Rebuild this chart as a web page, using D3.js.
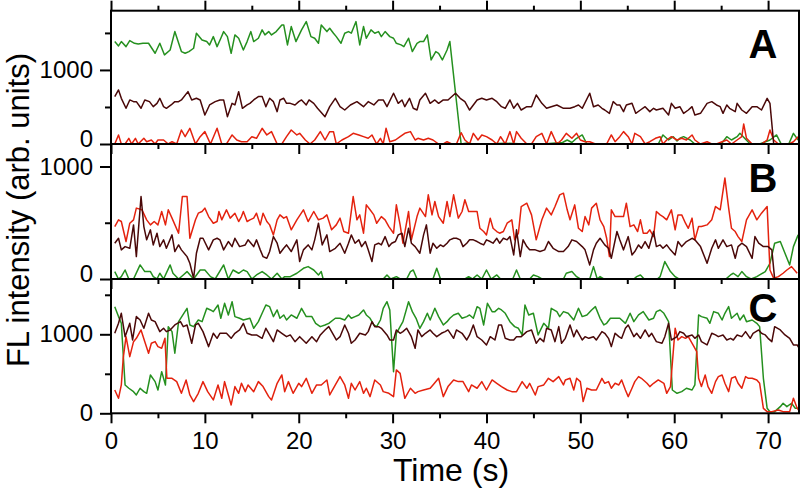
<!DOCTYPE html>
<html>
<head>
<meta charset="utf-8">
<script src="https://d3js.org/d3.v7.min.js"></script>
<style>
  body { margin: 0; background: #fff; }
  text { font-family: Arial, "Liberation Sans", sans-serif; }
</style>
</head>
<body>
<svg width="800" height="489"></svg>
<script>
// traces: [time (s), intensity (arb. units)]
var aGreen = [[0.4,1383],[0.8,1324],[1.1,1383],[1.6,1315],[2.0,1396],[2.5,1360],[2.9,1351],[3.4,1360],[4.0,1360],[4.7,1225],[5.2,1360],[5.7,1203],[6.3,1270],[6.8,1518],[7.5,1248],[7.9,1225],[8.3,1248],[8.8,1293],[9.1,1496],[9.7,1405],[10.2,1383],[10.5,1338],[10.9,1450],[11.3,1315],[11.7,1428],[12.0,1518],[12.4,1450],[12.8,1225],[13.2,1473],[13.6,1428],[14.1,1270],[14.5,1383],[14.9,1518],[15.2,1383],[15.7,1428],[16.1,1541],[16.4,1473],[16.8,1518],[17.1,1473],[17.6,1518],[18.2,1608],[18.4,1608],[18.8,1338],[19.2,1586],[19.7,1383],[20.3,1541],[20.8,1653],[21.3,1450],[21.7,1428],[22.1,1360],[22.4,1608],[23.0,1518],[23.3,1563],[23.7,1496],[24.0,1450],[24.5,1360],[24.9,1496],[25.3,1518],[25.6,1496],[26.1,1653],[26.5,1338],[26.9,1586],[27.2,1428],[27.7,1541],[28.1,1496],[28.5,1518],[28.8,1450],[29.2,1518],[29.7,1450],[30.1,1428],[30.4,1360],[30.9,1338],[31.2,1315],[31.7,1428],[32.1,1248],[32.6,1360],[32.9,1383],[33.3,1383],[33.7,1473],[34.1,1135],[34.6,1248],[34.9,1225],[35.3,1135],[35.8,1270],[36.1,1383],[37.3,0],[38.0,15],[38.6,0],[40.0,0],[42.0,10],[44.0,0],[46.0,0],[48.1,20],[48.6,54],[49.1,20],[49.6,77],[50.2,122],[50.7,0],[52.0,0],[55.0,0],[58.3,0],[58.8,122],[59.4,54],[59.9,99],[60.3,40],[60.6,77],[61.0,99],[61.7,54],[62.2,0],[65.0,0],[65.6,99],[66.1,54],[66.7,99],[67.0,144],[67.5,77],[68.1,0],[69.1,0],[70.2,54],[70.9,122],[71.4,0],[72.2,0],[72.7,144],[73.2,54]];
var aBrown = [[0.4,640],[0.8,730],[1.1,617],[1.6,482],[2.0,595],[2.4,572],[2.7,572],[3.2,482],[3.6,595],[4.1,572],[4.5,504],[4.9,549],[5.2,617],[5.6,504],[5.9,482],[6.4,527],[6.8,572],[7.2,572],[7.5,595],[8.2,707],[8.6,595],[9.1,617],[9.5,595],[10.0,392],[10.5,527],[11.1,572],[11.6,595],[12.0,595],[12.4,369],[12.9,549],[13.2,527],[13.6,707],[14.0,482],[14.5,527],[14.8,549],[15.2,595],[15.7,640],[16.1,640],[16.5,504],[16.9,617],[17.3,572],[17.7,437],[18.0,595],[18.4,617],[18.7,549],[19.1,549],[19.6,527],[20.0,572],[20.3,595],[20.8,527],[21.1,595],[21.6,549],[22.0,482],[22.8,369],[23.3,504],[23.9,617],[24.4,504],[24.9,459],[25.5,527],[26.2,572],[26.9,504],[27.4,572],[28.0,527],[28.5,595],[29.0,595],[29.4,504],[30.1,685],[30.6,549],[31.0,595],[31.3,504],[31.8,617],[32.2,482],[32.6,459],[32.9,595],[33.5,685],[34.0,549],[34.5,595],[34.9,549],[35.4,595],[35.9,595],[36.7,685],[37.2,617],[37.7,572],[38.2,459],[39.0,595],[39.5,617],[40.0,595],[40.6,617],[41.1,572],[41.6,504],[42.0,482],[42.5,595],[42.9,482],[43.3,549],[43.7,459],[44.3,504],[44.8,504],[45.3,662],[45.9,549],[46.4,482],[46.9,504],[47.5,527],[48.2,482],[48.9,482],[49.4,504],[49.8,527],[50.2,482],[51.0,685],[51.4,504],[51.9,527],[52.3,482],[52.6,459],[53.1,414],[53.5,572],[53.9,527],[54.2,527],[54.6,437],[54.9,527],[55.5,549],[55.9,414],[56.4,459],[56.9,504],[57.4,437],[57.8,482],[58.1,459],[58.8,482],[59.4,392],[59.7,549],[60.1,482],[60.6,504],[61.0,414],[61.5,459],[61.9,504],[62.2,392],[62.8,414],[63.5,549],[64.0,572],[64.5,527],[64.9,504],[65.2,414],[65.6,527],[65.9,482],[66.5,437],[66.7,549],[67.2,459],[67.7,414],[68.3,504],[68.8,504],[69.3,459],[69.9,617],[70.2,549],[70.6,0],[71.0,0],[73.4,0]];
var aRed = [[0.4,0],[0.8,122],[1.1,0],[1.5,0],[1.9,77],[2.2,0],[2.6,77],[2.9,0],[3.5,77],[3.8,31],[4.3,54],[4.7,0],[5.0,54],[5.6,54],[6.1,0],[6.5,31],[7.0,0],[7.5,189],[7.9,99],[8.4,212],[9.0,0],[9.5,99],[10.0,167],[10.6,0],[11.3,212],[11.8,0],[12.3,0],[12.9,122],[13.4,54],[13.9,31],[14.5,31],[15.0,99],[15.5,77],[16.1,212],[16.6,122],[17.1,167],[17.7,0],[18.2,0],[18.7,99],[19.2,189],[19.8,122],[20.1,144],[20.7,54],[21.2,0],[21.7,54],[22.3,167],[22.8,54],[23.3,167],[23.7,167],[24.0,0],[24.6,54],[25.3,99],[25.8,144],[26.4,122],[26.9,99],[27.4,77],[27.8,122],[28.3,0],[28.7,77],[29.0,0],[29.3,212],[29.7,31],[30.3,54],[30.8,99],[31.3,144],[31.9,167],[32.4,54],[32.7,77],[33.3,54],[33.8,77],[34.3,54],[34.9,0],[35.4,0],[35.8,31],[36.3,0],[36.8,0],[37.3,153],[37.7,54],[38.2,0],[38.6,144],[39.1,54],[39.5,122],[40.0,99],[40.6,54],[41.1,0],[41.5,99],[42.0,0],[42.5,167],[42.9,0],[43.2,167],[43.7,77],[44.3,0],[44.8,0],[45.3,99],[45.9,144],[46.4,0],[46.9,167],[47.5,0],[48.0,54],[48.5,144],[49.1,77],[49.6,144],[50.0,54],[50.5,31],[51.0,31],[51.6,0],[52.1,0],[52.8,0],[53.3,122],[53.7,31],[54.2,99],[54.6,167],[55.1,99],[55.5,0],[55.8,144],[56.4,99],[56.9,0],[57.4,31],[58.0,77],[58.5,99],[58.8,0],[59.2,54],[59.7,99],[60.3,54],[60.8,77],[61.3,54],[61.9,122],[62.2,54],[62.8,0],[63.5,31],[64.0,0],[64.5,0],[65.1,31],[65.6,54],[66.1,0],[66.7,54],[67.2,99],[67.4,270],[67.7,77],[68.3,0],[68.8,0],[69.3,0],[69.9,54],[70.2,189],[70.6,54],[71.1,0],[71.6,0],[72.2,0],[72.7,31],[73.2,99]];

var bGreen = [[0.4,66],[0.8,0],[1.1,21],[1.5,80],[1.9,0],[2.4,0],[3.1,125],[3.6,66],[4.2,66],[4.5,21],[4.9,0],[5.2,51],[5.6,0],[6.3,125],[6.6,51],[7.2,0],[7.7,36],[8.1,66],[8.8,0],[9.5,80],[10.0,80],[10.6,21],[11.1,0],[12.0,125],[12.5,0],[13.0,80],[13.6,51],[14.1,80],[14.5,66],[15.0,0],[15.5,36],[16.1,66],[16.6,36],[17.1,0],[17.7,51],[18.2,0],[18.5,21],[19.1,21],[19.8,51],[20.5,95],[21.0,110],[21.6,80],[22.1,36],[22.4,66],[22.6,0],[29.0,0],[29.4,36],[29.8,0],[30.4,21],[30.8,0],[31.5,0],[31.9,66],[32.2,80],[32.6,0],[34.3,0],[34.7,95],[35.1,0],[37.7,0],[38.1,21],[38.5,0],[39.0,36],[39.5,0],[40.0,80],[40.5,0],[41.1,36],[41.5,0],[42.8,0],[43.2,80],[43.6,0],[44.6,0],[45.0,36],[45.5,21],[45.9,0],[48.2,0],[48.5,51],[49.1,66],[49.6,21],[50.0,0],[51.0,0],[51.4,110],[51.8,0],[52.1,21],[52.5,0],[55.7,0],[56.0,21],[56.4,36],[56.8,0],[58.2,0],[58.5,21],[59.0,155],[59.6,66],[60.1,21],[60.5,0],[65.5,0],[66.0,36],[66.3,51],[66.8,21],[67.2,66],[67.7,21],[68.2,0],[68.8,21],[69.1,36],[69.7,66],[70.2,140],[70.7,318],[71.3,333],[71.8,229],[72.3,125],[72.7,288],[73.2,392]];
var bBrown = [[0.4,318],[0.8,362],[1.1,259],[1.5,288],[2.0,273],[2.4,481],[2.7,199],[3.2,733],[3.5,466],[3.8,348],[4.2,437],[4.5,303],[4.9,407],[5.2,288],[5.6,348],[5.9,273],[6.5,392],[6.8,244],[7.2,303],[7.5,259],[8.1,199],[8.4,140],[8.8,6],[9.1,229],[9.5,362],[9.8,362],[10.4,259],[10.9,348],[11.3,362],[11.6,348],[12.0,259],[12.5,333],[12.9,288],[13.2,362],[13.7,288],[14.3,303],[14.6,348],[15.2,288],[15.5,348],[15.9,259],[16.2,199],[16.6,184],[16.9,244],[17.3,377],[17.7,318],[18.0,229],[18.4,273],[18.7,303],[19.2,244],[19.8,348],[20.1,155],[20.5,259],[21.0,303],[21.4,259],[21.7,348],[22.1,496],[22.5,303],[23.0,392],[23.3,244],[23.9,273],[24.4,318],[24.9,229],[25.3,318],[25.6,392],[26.0,318],[26.4,348],[26.7,288],[27.1,333],[27.4,259],[27.8,155],[28.1,303],[28.5,318],[28.8,303],[29.2,377],[29.6,288],[29.9,318],[30.3,333],[30.6,392],[31.0,407],[31.3,288],[31.7,451],[32.0,318],[32.4,288],[32.9,229],[33.3,392],[33.6,481],[34.0,229],[34.3,318],[34.7,273],[35.1,303],[35.4,288],[35.8,318],[36.1,348],[36.5,362],[36.8,362],[37.2,348],[37.5,288],[37.9,318],[38.2,348],[38.6,348],[39.0,333],[39.3,318],[39.7,303],[40.0,348],[40.4,333],[40.7,318],[41.1,362],[41.4,318],[41.8,362],[42.2,348],[42.5,377],[42.9,214],[43.2,437],[43.6,199],[43.9,348],[44.3,288],[44.6,259],[45.2,259],[45.7,244],[46.2,259],[46.6,333],[47.1,273],[47.7,244],[48.2,244],[48.7,288],[49.1,348],[49.6,333],[50.2,288],[50.5,259],[51.0,125],[51.4,259],[51.7,318],[52.1,362],[52.6,303],[53.0,273],[53.3,184],[53.9,422],[54.2,348],[54.6,259],[55.1,377],[55.5,214],[55.8,244],[56.2,303],[56.5,273],[56.9,333],[57.3,273],[57.8,422],[58.1,288],[58.5,303],[58.8,273],[59.2,303],[59.6,259],[60.1,214],[60.4,333],[60.8,288],[61.3,333],[61.9,362],[62.2,348],[62.8,288],[63.5,140],[64.0,273],[64.4,348],[64.7,273],[65.2,348],[65.6,288],[66.1,303],[66.5,184],[66.8,288],[67.2,318],[67.7,288],[68.3,184],[68.6,377],[69.0,318],[69.5,288],[70.0,288],[70.4,259],[70.7,0],[73.4,0]];
var bRed = [[0.4,466],[0.8,526],[1.1,511],[1.6,333],[2.0,496],[2.4,526],[2.7,630],[3.3,615],[3.8,526],[4.2,481],[4.6,511],[5.0,481],[5.4,600],[5.8,481],[6.1,615],[6.5,541],[7.2,407],[7.6,733],[8.1,733],[8.4,362],[9.0,526],[9.3,585],[9.7,600],[10.0,630],[10.4,555],[10.9,496],[11.3,511],[11.5,600],[11.8,526],[12.3,615],[12.7,541],[13.2,585],[13.6,511],[13.9,555],[14.1,600],[14.5,511],[14.8,526],[15.2,541],[15.5,585],[15.9,481],[16.2,585],[16.6,511],[16.9,481],[17.3,392],[17.7,526],[18.0,570],[18.4,541],[18.7,555],[19.2,437],[19.8,526],[20.5,615],[21.0,511],[21.6,600],[22.1,526],[22.6,541],[23.0,570],[23.5,437],[24.0,481],[24.4,541],[24.8,422],[25.3,407],[25.8,733],[26.2,526],[26.5,570],[26.9,407],[27.2,659],[27.6,615],[28.0,570],[28.3,496],[28.8,555],[29.2,526],[29.6,466],[30.1,407],[30.4,659],[30.8,481],[31.1,318],[31.7,600],[32.0,348],[32.6,555],[32.9,630],[33.5,555],[33.8,748],[34.2,570],[34.5,689],[34.9,555],[35.4,496],[35.8,689],[36.1,555],[36.5,748],[37.0,541],[37.4,600],[37.7,704],[38.1,600],[38.4,600],[39.0,600],[39.3,451],[39.7,422],[40.0,392],[40.4,541],[40.7,451],[41.1,422],[41.4,407],[41.8,422],[42.2,496],[42.7,526],[43.0,348],[43.4,407],[43.7,644],[44.3,674],[44.8,570],[45.3,348],[45.9,526],[46.4,630],[46.9,570],[47.3,644],[47.8,748],[48.2,763],[48.6,615],[48.9,526],[49.4,659],[49.8,451],[50.2,422],[50.5,555],[50.9,481],[51.2,630],[51.7,674],[52.1,526],[52.5,466],[52.8,362],[53.1,199],[53.3,615],[53.7,555],[54.2,555],[54.6,555],[54.9,674],[55.3,466],[55.7,481],[56.1,422],[56.4,526],[56.7,407],[57.1,407],[57.4,437],[57.8,377],[58.1,600],[58.5,570],[58.8,555],[59.2,526],[59.7,615],[60.1,437],[60.4,570],[60.8,570],[61.2,496],[61.5,451],[61.9,541],[62.2,348],[62.6,466],[62.9,466],[63.5,481],[64.0,526],[64.4,644],[64.9,615],[65.4,897],[65.8,630],[66.1,451],[66.5,422],[66.8,377],[67.2,333],[67.7,526],[68.3,615],[68.8,526],[69.3,585],[69.9,644],[70.2,80],[70.6,6],[71.1,21],[71.6,51],[72.0,80],[72.5,110],[73.1,51]];

var cGreen = [[0.4,1350],[0.8,1224],[1.1,1139],[1.5,359],[1.9,317],[2.4,274],[2.7,232],[3.1,317],[3.5,274],[3.8,253],[4.2,485],[4.7,401],[5.0,295],[5.4,527],[5.8,359],[6.1,1097],[6.5,1034],[6.8,760],[7.2,1160],[8.1,1329],[8.4,1118],[8.8,1097],[9.3,1181],[9.7,1160],[10.2,1329],[10.6,1308],[10.9,1287],[11.4,1371],[11.7,1203],[12.1,1392],[12.5,1245],[12.9,1413],[13.2,1224],[13.7,1203],[14.1,1181],[14.8,1203],[15.2,1076],[15.7,1160],[16.1,1266],[16.5,1371],[16.9,1350],[17.3,1224],[17.7,1308],[18.0,1203],[18.4,1245],[18.7,1181],[19.2,1245],[19.8,1203],[20.3,1329],[20.8,1224],[21.4,1224],[21.8,1139],[22.3,1097],[22.8,1118],[23.2,1139],[23.9,1203],[24.4,1203],[24.9,1181],[25.3,1245],[25.6,1203],[26.0,1224],[26.4,1245],[26.9,1308],[27.2,1245],[27.6,1203],[28.0,1118],[28.3,1097],[28.7,1181],[29.0,1329],[29.4,1413],[29.7,1308],[30.1,527],[30.4,1013],[30.8,1097],[31.1,1160],[31.7,1413],[32.1,1287],[32.5,1203],[32.9,1076],[33.3,1160],[33.7,1266],[34.0,1181],[34.5,1329],[34.9,1224],[35.4,1118],[35.8,1160],[36.1,1203],[36.5,1245],[37.0,1266],[37.4,1203],[37.9,1224],[38.2,1245],[38.6,1203],[39.0,1350],[39.3,1329],[39.7,1118],[40.1,1392],[40.6,1287],[40.9,1287],[41.3,1329],[41.6,1308],[42.0,1266],[42.5,1160],[43.0,1097],[43.4,1076],[43.8,992],[44.1,1371],[44.5,1245],[45.0,1266],[45.5,992],[46.1,1139],[46.6,1076],[46.9,1329],[47.5,1287],[47.8,1224],[48.2,1287],[48.7,1266],[49.3,1181],[49.8,1329],[50.2,1224],[50.7,1245],[51.2,1308],[51.6,1350],[52.1,1203],[52.5,1118],[52.8,1139],[53.2,1203],[53.5,1203],[53.9,1203],[54.2,1203],[54.8,1139],[55.3,1266],[55.7,1160],[56.2,1245],[56.7,1287],[57.3,1181],[57.8,1203],[58.1,1287],[58.5,1308],[58.9,1266],[59.4,1160],[59.8,295],[60.3,253],[60.8,274],[61.3,317],[61.9,295],[62.2,359],[62.6,1245],[62.9,1224],[63.5,1203],[63.8,1139],[64.2,1287],[64.7,1266],[65.1,1181],[65.4,1266],[65.8,1350],[66.1,1203],[66.7,1266],[67.0,1181],[67.4,1245],[67.7,1160],[68.3,1181],[68.8,1139],[69.1,1097],[69.5,443],[69.9,63],[70.2,21],[70.7,21],[71.3,84],[71.6,127],[72.0,84],[72.5,127],[72.9,63],[73.2,63]];
var cBrown = [[0.4,1013],[0.8,1139],[1.1,1266],[1.5,970],[2.0,1139],[2.3,928],[2.7,1224],[3.1,1181],[3.5,1076],[4.0,1266],[4.3,1181],[4.7,1160],[5.2,1034],[5.6,1076],[5.9,1034],[6.3,1055],[6.8,1118],[7.4,1160],[7.7,1097],[8.1,1118],[8.6,886],[9.0,1118],[9.3,1139],[9.8,1034],[10.4,844],[10.9,1013],[11.3,949],[11.6,1013],[12.3,1013],[12.8,949],[13.2,1013],[13.7,1055],[14.1,1139],[14.5,1013],[15.0,992],[15.5,992],[16.1,949],[16.5,1076],[16.9,992],[17.3,907],[17.7,1055],[18.2,1013],[18.7,970],[19.1,992],[19.6,907],[20.1,970],[20.8,886],[21.4,970],[21.9,907],[22.3,992],[22.8,1055],[23.2,1097],[23.7,992],[24.0,928],[24.4,970],[24.9,1118],[25.3,1013],[25.6,886],[26.0,928],[26.5,1013],[27.1,992],[27.4,1034],[27.8,1160],[28.1,1097],[28.5,1097],[28.8,1076],[29.4,992],[29.7,928],[30.1,928],[30.4,1055],[30.8,1013],[31.1,1034],[31.5,1076],[32.0,970],[32.4,823],[32.7,1055],[33.1,970],[33.5,1013],[34.0,1055],[34.3,1013],[34.7,970],[35.2,1013],[35.6,1034],[35.9,1055],[36.5,949],[36.8,1055],[37.4,1013],[37.9,928],[38.2,992],[38.6,1118],[39.0,970],[39.5,928],[40.0,865],[40.4,970],[40.9,928],[41.3,1118],[41.6,1118],[42.0,949],[42.5,928],[42.9,928],[43.2,970],[43.7,970],[44.3,1034],[44.8,1055],[45.3,886],[45.7,949],[46.1,907],[46.4,1076],[46.9,1055],[47.3,907],[47.7,1097],[48.0,886],[48.4,949],[48.9,1118],[49.3,970],[49.6,1055],[50.2,928],[50.5,970],[50.9,949],[51.4,970],[51.7,928],[52.3,1034],[52.6,1013],[53.0,949],[53.3,844],[53.7,1013],[54.1,970],[54.4,949],[54.8,1076],[55.1,1118],[55.7,970],[56.0,1013],[56.4,949],[56.9,1055],[57.3,970],[57.6,1013],[58.1,907],[58.7,886],[59.0,970],[59.4,1139],[59.7,928],[60.3,970],[60.6,1034],[61.0,1013],[61.3,970],[61.9,992],[62.2,949],[62.6,992],[62.9,907],[63.5,865],[64.0,1013],[64.4,992],[64.7,970],[65.2,992],[65.6,928],[66.0,949],[66.3,928],[66.7,992],[67.2,970],[67.6,1034],[68.1,949],[68.4,1013],[69.0,1055],[69.3,1013],[69.7,992],[70.0,949],[70.4,907],[70.7,1097],[71.3,1055],[71.8,992],[72.3,949],[72.7,865],[73.1,865],[73.4,802]];
var cRed = [[0.4,295],[0.8,190],[1.1,359],[1.3,696],[1.6,970],[2.0,717],[2.4,907],[2.7,949],[3.2,1055],[3.6,907],[4.0,760],[4.3,886],[4.7,907],[5.0,844],[5.4,823],[5.75,949],[5.95,443],[6.5,443],[7.0,401],[7.5,253],[8.0,422],[8.4,232],[8.8,148],[9.3,253],[9.8,401],[10.3,274],[10.9,169],[11.4,359],[11.8,190],[12.1,401],[12.5,232],[12.8,106],[13.2,338],[13.6,253],[13.9,380],[14.3,274],[14.6,359],[15.2,274],[15.7,401],[16.2,338],[16.8,211],[17.1,169],[17.7,380],[18.2,485],[18.5,274],[18.9,401],[19.4,253],[20.0,380],[20.3,338],[20.8,443],[21.4,253],[21.9,359],[22.4,359],[23.0,422],[23.3,232],[23.9,359],[24.4,464],[24.9,359],[25.3,190],[25.6,380],[26.0,295],[26.5,401],[26.9,253],[27.2,317],[27.6,211],[28.1,422],[28.7,359],[29.0,274],[29.6,253],[30.1,211],[30.4,549],[30.8,506],[31.3,190],[31.9,317],[32.4,253],[32.7,274],[33.3,295],[34.0,317],[34.3,359],[34.9,443],[35.4,211],[35.9,338],[36.5,422],[37.0,401],[37.5,401],[38.1,274],[38.4,359],[39.0,317],[39.5,401],[40.0,295],[40.6,422],[41.1,380],[41.6,338],[42.2,295],[42.7,274],[43.2,274],[43.8,401],[44.3,317],[44.6,380],[45.2,232],[45.5,338],[46.1,359],[46.6,443],[47.1,401],[47.7,464],[48.2,359],[48.4,422],[48.9,443],[49.3,295],[49.6,443],[50.0,401],[50.3,148],[50.7,317],[51.2,295],[51.7,295],[52.3,443],[52.6,380],[53.0,401],[53.3,317],[53.7,380],[54.1,359],[54.4,422],[54.8,295],[55.1,211],[55.5,317],[55.8,401],[56.2,464],[56.5,443],[57.1,380],[57.4,338],[57.8,380],[58.3,422],[58.9,380],[59.2,253],[59.6,338],[60.1,1076],[60.4,928],[60.8,970],[61.2,949],[61.5,970],[62.0,865],[62.4,781],[62.6,443],[62.9,338],[63.3,485],[63.6,338],[64.0,253],[64.4,401],[64.7,464],[65.1,485],[65.4,380],[65.8,274],[66.1,443],[66.5,464],[66.8,380],[67.2,317],[67.6,464],[67.9,443],[68.3,443],[68.8,422],[69.1,380],[69.5,63],[69.9,21],[70.4,21],[71.1,42],[71.6,21],[72.3,21],[72.7,190],[73.1,63],[73.4,21]];

var panelLabels = ["A", "B", "C"];
var panelMax = [1800, 1200, 1700];
var majorY = [[0, 1000], [0, 1000], [0, 1000]];
var minorY = [[500, 1500], [500], [500, 1500]];
var majorX = [0, 10, 20, 30, 40, 50, 60, 70];
var minorX = [5, 15, 25, 35, 45, 55, 65];

var colGreen = "#25901f", colRed = "#e4220e", colBrown = "#4a0808";

var svg = d3.select("svg"),
	left = 111, right = 800,
	edges = [10.7, 144, 279, 413.3];

var x = d3.scaleLinear().domain([0, 73.4]).range([left, right]);

var traces = [
	[[aGreen, colGreen], [aRed, colRed], [aBrown, colBrown]],
	[[bGreen, colGreen], [bRed, colRed], [bBrown, colBrown]],
	[[cGreen, colGreen], [cRed, colRed], [cBrown, colBrown]]
];
var labelBase = [58, 192, 322];

panelLabels.forEach(function(name, i) {
	var top = edges[i], bottom = edges[i + 1];
	var y = d3.scaleLinear().domain([0, panelMax[i]]).range([bottom, top]);

	svg.append("clipPath").attr("id", "clip" + i)
		.append("rect").attr("x", left).attr("y", top - 1).attr("width", right - left).attr("height", bottom - top + 1);

	var g = svg.append("g").attr("clip-path", "url(#clip" + i + ")");
	var line = d3.line().x(function(d){return x(d[0])}).y(function(d){return y(d[1])});
	traces[i].forEach(function(t) {
		g.append("path").datum(t[0]).attr("d", line)
			.attr("fill", "none").attr("stroke", t[1]).attr("stroke-width", 1.5).attr("stroke-linejoin", "round");
	});

	// left axis
	var yMaj = svg.append("g").attr("transform", "translate(" + left + ",0)")
		.call(d3.axisLeft(y).tickValues(majorY[i]).tickSize(11).tickPadding(7).tickFormat(d3.format("d")));
	var yMin = svg.append("g").attr("transform", "translate(" + left + ",0)")
		.call(d3.axisLeft(y).tickValues(minorY[i]).tickSize(6).tickFormat(""));
	[yMaj, yMin].forEach(function(a) {
		a.select(".domain").remove();
		a.selectAll("line").attr("stroke", "#000").attr("stroke-width", 2);
		a.selectAll("text").attr("font-size", 24).attr("font-family", "Arial, 'Liberation Sans', sans-serif").attr("fill", "#000");
	});
	// the zero label of the upper panels sits a little high, as in the figure
	if (i < 2) yMaj.selectAll("text").filter(function(d){return d === 0}).attr("dy", "0.1em");

	// bottom edge ticks pointing down
	var xMaj = svg.append("g").attr("transform", "translate(0," + bottom + ")")
		.call(d3.axisBottom(x).tickValues(majorX).tickSize(10).tickPadding(9).tickFormat(i == 2 ? d3.format("d") : ""));
	var xMin = svg.append("g").attr("transform", "translate(0," + bottom + ")")
		.call(d3.axisBottom(x).tickValues(minorX).tickSize(5).tickFormat(""));
	[xMaj, xMin].forEach(function(a) {
		a.select(".domain").remove();
		a.selectAll("line").attr("stroke", "#000").attr("stroke-width", 2);
		a.selectAll("text").attr("font-size", 24).attr("font-family", "Arial, 'Liberation Sans', sans-serif").attr("fill", "#000");
	});

	svg.append("rect").attr("x", left).attr("y", top).attr("width", right - 1 - left).attr("height", bottom - top)
		.attr("fill", "none").attr("stroke", "#000").attr("stroke-width", 2);

	svg.append("text").attr("x", 763).attr("y", labelBase[i]).attr("text-anchor", "middle")
		.attr("font-size", 40).attr("font-weight", "bold").text(name);
});

// top edge ticks pointing up
var topMaj = svg.append("g").attr("transform", "translate(0," + edges[0] + ")")
	.call(d3.axisTop(x).tickValues(majorX).tickSize(10).tickFormat(""));
var topMin = svg.append("g").attr("transform", "translate(0," + edges[0] + ")")
	.call(d3.axisTop(x).tickValues(minorX).tickSize(5).tickFormat(""));
[topMaj, topMin].forEach(function(a) {
	a.select(".domain").remove();
	a.selectAll("line").attr("stroke", "#000").attr("stroke-width", 2);
});

svg.append("text").attr("transform", "translate(29,210) rotate(-90)").attr("text-anchor", "middle")
	.attr("font-size", 31).text("FL intensity (arb. units)");
svg.append("text").attr("x", 451).attr("y", 481).attr("text-anchor", "middle")
	.attr("font-size", 32).text("Time (s)");
</script>
</body>
</html>
